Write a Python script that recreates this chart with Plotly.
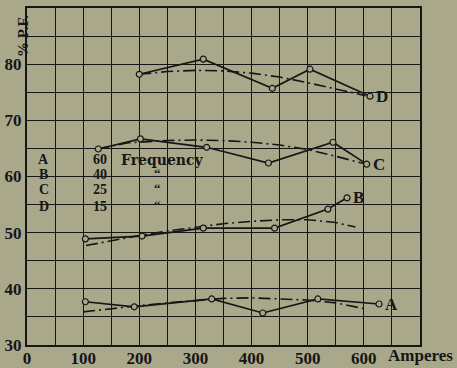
import plotly.graph_objects as go

PAPER = "#aaa88b"
INK = "#161616"
FONT = dict(family="Liberation Serif, DejaVu Serif, serif", color=INK, size=16, weight="bold")
WIDE_FONT = dict(family="DejaVu Serif, Liberation Serif, serif", color=INK, size=14, weight="bold")

# measured curves (amperes, % power factor)
a_amp = [104, 191, 329, 420, 518, 627]
a_pf = [37.7, 36.8, 38.2, 35.7, 38.2, 37.3]
b_amp = [104, 205, 314, 441, 536, 570]
b_pf = [48.9, 49.4, 50.8, 50.8, 54.2, 56.2]
c_amp = [127, 202, 320, 430, 545, 605]
c_pf = [64.9, 66.7, 65.2, 62.4, 66.1, 62.2]
d_amp = [200, 314, 437, 504, 611]
d_pf = [78.2, 80.9, 75.7, 79.1, 74.3]

# mean (dash-dot) curves
a_mean_amp = [100, 150, 200, 250, 300, 350, 400, 450, 500, 550, 604]
a_mean_pf = [35.9, 36.5, 37.0, 37.5, 37.9, 38.3, 38.4, 38.2, 38.0, 37.5, 36.4]
b_mean_amp = [105, 150, 200, 250, 300, 350, 400, 450, 500, 550, 585]
b_mean_pf = [47.7, 48.6, 49.5, 50.3, 51.0, 51.6, 52.0, 52.3, 52.3, 51.8, 51.0]
c_mean_amp = [125, 180, 250, 300, 350, 400, 450, 500, 550, 600]
c_mean_pf = [64.9, 66.0, 66.4, 66.5, 66.4, 66.1, 65.6, 64.8, 63.6, 62.3]
d_mean_amp = [200, 250, 300, 350, 400, 450, 500, 550, 603]
d_mean_pf = [78.2, 78.7, 78.9, 78.8, 78.4, 77.7, 76.7, 75.6, 74.4]

curve_names = ["A", "B", "C", "D"]
frequencies = ["60", "40", "25", "15"]
x_ticks = [0, 100, 200, 300, 400, 500, 600]
y_ticks = [30, 40, 50, 60, 70, 80]

measured = [(a_amp, a_pf), (b_amp, b_pf), (c_amp, c_pf), (d_amp, d_pf)]
means = [(a_mean_amp, a_mean_pf), (b_mean_amp, b_mean_pf),
         (c_mean_amp, c_mean_pf), (d_mean_amp, d_mean_pf)]

fig = go.Figure()

for xs, ys in means:
    fig.add_trace(go.Scatter(
        x=xs, y=ys, mode="lines",
        line=dict(color=INK, width=1.6, dash="12px,4px,2px,4px"),
        hoverinfo="skip",
    ))

for xs, ys in measured:
    fig.add_trace(go.Scatter(
        x=xs, y=ys, mode="lines+markers",
        line=dict(color=INK, width=1.7),
        marker=dict(symbol="circle", size=6, color=PAPER, line=dict(color=INK, width=1.2)),
    ))

# curve letters at line ends
for name, (xs, ys) in zip(curve_names, measured):
    fig.add_annotation(x=xs[-1], y=ys[-1], text=name, showarrow=False,
                       xanchor="left", xshift=4, font=dict(FONT, size=17))

# frequency table
row_y = [63.0, 60.3, 57.7, 54.6]
for i, (name, freq) in enumerate(zip(curve_names, frequencies)):
    fig.add_annotation(x=30, y=row_y[i], text=name, showarrow=False, font=dict(FONT, size=14))
    fig.add_annotation(x=130, y=row_y[i], text=freq, showarrow=False, font=dict(FONT, size=14))
    if i == 0:
        fig.add_annotation(x=163, y=row_y[i], text="Frequency", showarrow=False,
                           xanchor="left", font=WIDE_FONT)
    else:
        fig.add_annotation(x=232, y=row_y[i] + 0.2, text="\u201c", showarrow=False,
                           font=dict(FONT, size=13))

fig.add_annotation(xref="paper", yref="paper", x=-0.036, y=0.985, text="% P.F.",
                   textangle=-90, showarrow=False, yanchor="top", font=dict(FONT, size=15))
fig.add_annotation(xref="paper", yref="paper", x=1.0, y=0, yshift=1, text="Amperes",
                   showarrow=False, xanchor="center", yanchor="top",
                   font=dict(FONT, size=17))

fig.update_layout(
    width=457, height=368,
    paper_bgcolor=PAPER, plot_bgcolor=PAPER,
    margin=dict(l=27, r=37, t=8, b=23),
    showlegend=False,
    font=FONT,
)
fig.update_xaxes(
    range=[0, 700], tickvals=x_ticks, ticktext=[str(v) for v in x_ticks],
    showgrid=True, gridcolor=INK, gridwidth=1.3,
    minor=dict(dtick=50, showgrid=True, gridcolor=INK, gridwidth=1.3),
    showline=True, linecolor=INK, linewidth=2, mirror=True,
    zeroline=False, ticks="", tickfont=dict(FONT, size=17), automargin=False,
    ticklabelstandoff=-3,
)
fig.update_yaxes(
    range=[30, 90], tickvals=y_ticks, ticktext=[str(v) for v in y_ticks],
    showgrid=True, gridcolor=INK, gridwidth=1.3,
    minor=dict(dtick=5, showgrid=True, gridcolor=INK, gridwidth=1.3),
    showline=True, linecolor=INK, linewidth=2, mirror=True,
    zeroline=False, ticks="", tickfont=dict(FONT, size=17), automargin=False,
)

# page body has a default 8px margin; drop it so the figure sits at the corner
fig.write_html("out.html", config={"displayModeBar": False},
               post_script="document.body.style.margin='0';")
